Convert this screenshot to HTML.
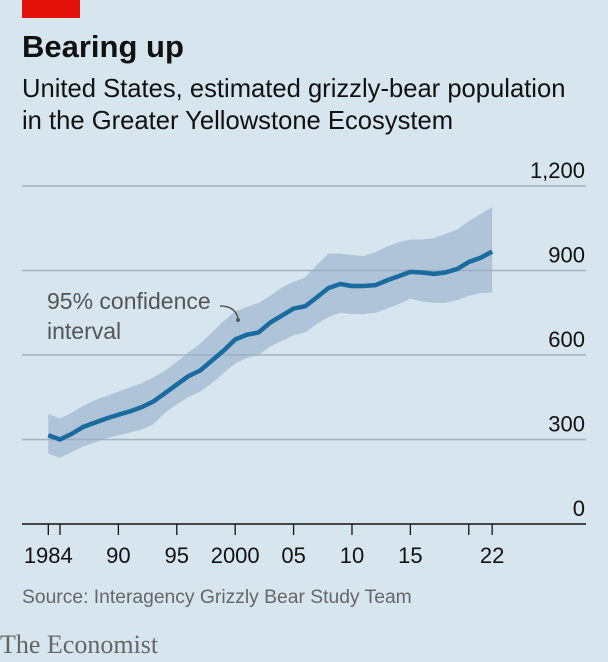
<!DOCTYPE html>
<html><head><meta charset="utf-8"><style>
body{margin:0;background:#d7e5ef;}
svg{display:block;font-family:"Liberation Sans",sans-serif;}
</style></head><body>
<svg width="608" height="662" viewBox="0 0 608 662">
<rect x="0" y="0" width="608" height="662" fill="#d7e5ef"/>
<rect x="22" y="0" width="58" height="18" fill="#e3120b"/>
<text x="22" y="57" font-size="31" font-weight="bold" fill="#111">Bearing up</text>
<text x="22" y="97" font-size="25.6" fill="#111">United States, estimated grizzly-bear population</text>
<text x="22" y="129" font-size="25.6" fill="#111">in the Greater Yellowstone Ecosystem</text>
<g id="grid"></g>
<g id="plot"></g>
<g id="xaxis"></g>
<text x="47" y="309" font-size="23" fill="#555">95% confidence</text>
<text x="47" y="339" font-size="23" fill="#555">interval</text>
<path d="M220 306 Q235 306 238 318" fill="none" stroke="#555" stroke-width="1.5"/>
<circle cx="238" cy="320" r="2" fill="#555"/>
<text x="22" y="603" font-size="19.3" fill="#666">Source: Interagency Grizzly Bear Study Team</text>
<text x="0" y="653" font-size="26" fill="#666" font-family="Liberation Serif, serif">The Economist</text>
</svg>
<script>
const years=[1984,1985,1986,1987,1988,1989,1990,1991,1992,1993,1994,1995,1996,1997,1998,1999,2000,2001,2002,2003,2004,2005,2006,2007,2008,2009,2010,2011,2012,2013,2014,2015,2016,2017,2018,2019,2020,2021,2022];
const estimate=[315,300,320,345,360,375,388,400,415,435,465,495,525,545,580,615,655,672,680,715,740,765,773,805,838,852,845,845,848,865,880,895,893,888,893,905,930,945,967];
const upper=[390,375,395,420,440,455,470,485,500,520,545,575,610,640,680,720,755,770,785,810,840,860,875,920,960,960,955,952,965,985,1000,1010,1010,1015,1030,1045,1075,1100,1125];
const lower=[250,235,255,275,290,305,315,325,335,355,395,425,450,470,500,535,570,590,600,630,650,670,680,710,735,750,745,745,750,765,780,800,790,785,785,795,810,820,822];
const yTicks=[0,300,600,900,1200];
const yTickLabels=["0","300","600","900","1,200"];
const xTicks=[1984,1985,1990,1995,2000,2005,2010,2015,2020,2022];
const xLabelYears=[1984,1990,1995,2000,2005,2010,2015,2022];
const xLabels=["1984","90","95","2000","05","10","15","22"];
const NS="http://www.w3.org/2000/svg";
const X=y=>48.3+(y-1984)*11.68;
const Y=v=>524-v*(338/1200);
function mk(tag,attrs,parent){const e=document.createElementNS(NS,tag);for(const k in attrs)e.setAttribute(k,attrs[k]);parent.appendChild(e);return e;}
const grid=document.getElementById('grid'),plot=document.getElementById('plot'),xa=document.getElementById('xaxis');
yTicks.forEach((v,i)=>{
  if(v!==0){const l=mk('line',{x1:22,x2:586,y1:Y(v),y2:Y(v),stroke:'#a3b3bf','stroke-width':1.5},grid);
  
  }
  const t=mk('text',{x:585,y:Y(v)-8,'text-anchor':'end','font-size':22,fill:'#111'},grid);
  t.textContent=yTickLabels[i];
  
  
});
let d='';years.forEach((y,i)=>{d+=(i?'L':'M')+X(y)+' '+Y(upper[i]);});
for(let i=years.length-1;i>=0;i--)d+='L'+X(years[i])+' '+Y(lower[i]);
const band=mk('path',{d:d+'Z',fill:'#94acc9','fill-opacity':0.6},plot);


let ld='';years.forEach((y,i)=>{ld+=(i?'L':'M')+X(y)+' '+Y(estimate[i]);});
const line=mk('path',{d:ld,fill:'none',stroke:'#1a6b9f','stroke-width':4.5,'stroke-linejoin':'round'},plot);


const base=mk('line',{x1:22,x2:586,y1:Y(0),y2:Y(0),stroke:'#111','stroke-width':1.5},xa);


xTicks.forEach(y=>{const t=mk('line',{x1:X(y),x2:X(y),y1:Y(0),y2:Y(0)+11,stroke:'#111','stroke-width':1.3},xa);
  
  });
xLabelYears.forEach((y,i)=>{const t=mk('text',{x:X(y),y:563,'text-anchor':'middle','font-size':22,fill:'#111'},xa);
  t.textContent=xLabels[i];
  
  });
</script>
</body></html>
